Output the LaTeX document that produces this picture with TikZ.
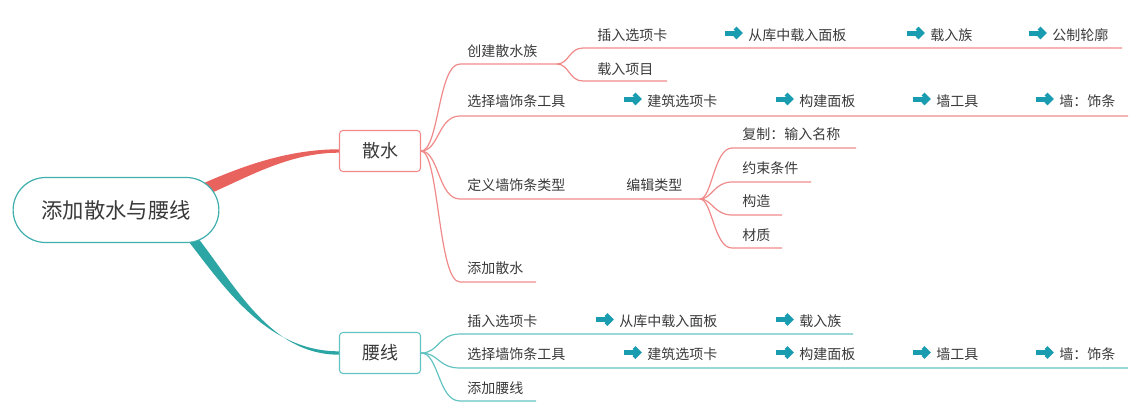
\documentclass[tikz,border=0pt]{standalone}
\usepackage{fontspec}
\setmainfont{Noto Sans CJK SC}
\usetikzlibrary{shapes.misc,calc,backgrounds}

\definecolor{sanred}{HTML}{E8625E}
\definecolor{sanline}{HTML}{F08A8A}
\definecolor{yaoteal}{HTML}{2BA6A4}
\definecolor{yaoline}{HTML}{62C3C1}
\definecolor{rootc}{HTML}{3FB0AD}
\definecolor{arrowc}{HTML}{1A9CB0}
\definecolor{txt}{HTML}{3A3A3A}

\begin{document}
\begin{tikzpicture}[x=0.75pt, y=-0.75pt,
    topic/.style={anchor=base west, inner sep=0pt, text=txt, font=\fontsize{10.5}{12}\selectfont},
    goarrow/.pic={
        \draw[arrowc, line width=3.75pt] (0,0) -- (13,0);
        \draw[arrowc, line width=3pt, line join=miter] (10,-5) -- (15,0) -- (10,5);
    },
    mainbox/.style={draw=#1, rounded corners=2.5pt, minimum width=60.75pt, minimum height=30.75pt,
        line width=0.8pt, fill=white, text=txt, font=\fontsize{13.5}{14}\selectfont},
    redline/.style={draw=sanline, line width=0.9pt},
    tealline/.style={draw=yaoline, line width=0.9pt}]

    \useasboundingbox (0,0) rectangle (1136,415);

    % Central topic and the two main topics
    \node[rounded rectangle, draw=rootc, line width=0.9pt, minimum width=161pt, minimum height=48.75pt,
        fill=white, text=txt, font=\fontsize{16}{18}\selectfont] (root) at (116,210) {添加散水与腰线};
    \node[mainbox=sanline] (sanshui) at (380,151) {散水};
    \node[mainbox=yaoline] (yaoxian) at (380,353) {腰线};

    % Thick tapered connectors
    \begin{scope}[on background layer]
        \fill[sanred] ($(root.center)+(88,-27)$) .. controls (245,165) and (290,149.3) .. ($(sanshui.west)+(0,-1.7)$)
            -- ($(sanshui.west)+(0,1.7)$) .. controls (290,152.7) and (250,176) .. ($(root.center)+(93,-16)$) -- cycle;
        \fill[yaoteal] ($(root.center)+(70,28)$) .. controls (226,290) and (268,351.3) .. ($(yaoxian.west)+(0,-1.7)$)
            -- ($(yaoxian.west)+(0,1.7)$) .. controls (272,354.7) and (238,290) .. ($(root.center)+(82,28)$) -- cycle;
    \end{scope}

    % Branches of 散水
    \foreach \n/\y/\e in {c1/64/557, c2/116/1128, c3/199/700, c4/282/536} {
        \coordinate (\n-in) at (460,\y);
        \coordinate (\n-out) at (\e,\y);
        \draw[redline] (sanshui.east) .. controls +(18,0) and +(-22,0) .. (\n-in) -- (\n-out);
    }
    \foreach \n/\y/\e in {c11/48/1122, c12/81/667} {
        \coordinate (\n-in) at (583,\y);
        \coordinate (\n-out) at (\e,\y);
        \draw[redline] (c1-out) .. controls +(12,0) and +(-14,0) .. (\n-in) -- (\n-out);
    }
    \foreach \n/\y/\e in {c31/148/856, c32/182/811, c33/215/782, c34/248/782} {
        \coordinate (\n-in) at (732,\y);
        \coordinate (\n-out) at (\e,\y);
        \draw[redline] (c3-out) .. controls +(12,0) and +(-18,0) .. (\n-in) -- (\n-out);
    }

    % Branches of 腰线
    \foreach \n/\y/\e in {y1/334/853, y2/368/1128, y3/401/536} {
        \coordinate (\n-in) at (460,\y);
        \coordinate (\n-out) at (\e,\y);
        \draw[tealline] (yaoxian.east) .. controls +(18,0) and +(-22,0) .. (\n-in) -- (\n-out);
    }

    % Topics under 散水
    \node[topic] (chuangjian) at (467,56) {创建散水族};
    \node[topic] (charu) at (597,40) {插入选项卡};
    \node[topic] (zairu) at (597,74) {载入项目};
    \node[topic] (xuanze) at (467,106) {选择墙饰条工具};
    \node[topic] (dingyi) at (467,190) {定义墙饰条类型};
    \node[topic] (bianji) at (626,190) {编辑类型};
    \node[topic] (fuzhi) at (742,139.5) {复制：输入名称};
    \node[topic] (yueshu) at (742,173) {约束条件};
    \node[topic] (gouzao) at (742,206) {构造};
    \node[topic] (caizhi) at (742,240.5) {材质};
    \node[topic] (tianjia) at (467,273.5) {添加散水};

    \foreach \x/\name/\txt in {725/sa/从库中载入面板, 907/sb/载入族, 1029/sc/公制轮廓} {
        \pic at (\x,33) {goarrow};
        \node[topic] (\name) at (\x+23,40) {\txt};
    }
    \foreach \x/\name/\txt in {624/sd/建筑选项卡, 776/se/构建面板, 913/sf/墙工具, 1036/sg/墙：饰条} {
        \pic at (\x,99) {goarrow};
        \node[topic] (\name) at (\x+23,106) {\txt};
    }

    % Topics under 腰线
    \node[topic] (ycharu) at (467,326.5) {插入选项卡};
    \node[topic] (yxuanze) at (467,359.5) {选择墙饰条工具};
    \node[topic] (ytianjia) at (467,393.5) {添加腰线};

    \foreach \x/\name/\txt in {596/ya/从库中载入面板, 776/yb/载入族} {
        \pic at (\x,319.5) {goarrow};
        \node[topic] (\name) at (\x+23,326.5) {\txt};
    }
    \foreach \x/\name/\txt in {624/yd/建筑选项卡, 776/ye/构建面板, 913/yf/墙工具, 1036/yg/墙：饰条} {
        \pic at (\x,352.5) {goarrow};
        \node[topic] (\name) at (\x+23,359.5) {\txt};
    }
\end{tikzpicture}
\end{document}
